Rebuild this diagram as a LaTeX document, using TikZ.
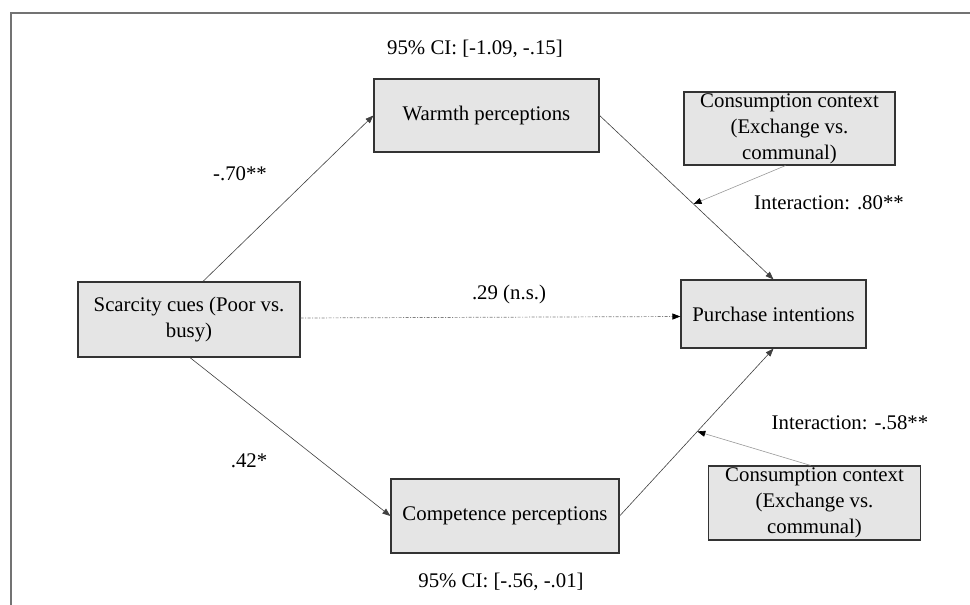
\documentclass[tikz,border=0pt]{standalone}
\usepackage{fontspec}
\setmainfont{Liberation Serif}
\usetikzlibrary{arrows.meta,calc}
\begin{document}
\begin{tikzpicture}[x=1pt,y=-1pt,
  every node/.style={font=\fontsize{20.8}{26}\selectfont, inner sep=0pt},
  varbox/.style={draw=black!80, line width=1.2pt, fill=black!10, align=center},
  path/.style={draw=black!75, line width=0.6pt, -{Triangle[length=8pt,width=6pt]}},
  modpath/.style={draw=black!40, line width=0.6pt, -{Triangle[length=8pt,width=6pt,fill=black,color=black]}},
  dotpath/.style={draw=black!50, line width=0.7pt, dash pattern=on 3pt off 1.5pt on 1pt off 1.5pt, -{Triangle[length=8pt,width=6pt,fill=black,color=black]}},
  lbl/.style={anchor=center}]
\useasboundingbox (0,0) rectangle (970,605);
% frame (top and left edges)
\draw[black!55, line width=1.6pt] (970,13) -- (11,13) -- (11,605);
% boxes
\node[varbox, minimum width=225pt, minimum height=73pt] (warm) at (486.5,115.5) {Warmth perceptions};
\node[varbox, minimum width=211pt, minimum height=73pt] (ctx1) at (789.5,128.5) {Consumption context\\(Exchange vs.\\communal)};
\node[varbox, minimum width=222pt, minimum height=75pt] (scar) at (189,319.5) {Scarcity cues (Poor vs.\\busy)};
\node[varbox, minimum width=185pt, minimum height=68pt] (purch) at (773.5,314) {Purchase intentions};
\node[varbox, minimum width=228pt, minimum height=74pt] (comp) at (505,516) {Competence perceptions};
\node[varbox, minimum width=212pt, minimum height=74pt] (ctx2) at (814.5,503) {Consumption context\\(Exchange vs.\\communal)};
% paths
\draw[path] ($(scar.north)+(14,0)$) -- (warm.west);
\draw[path] (warm.east) -- (purch.north);
\draw[path] ($(scar.south)+(1,0)$) -- (comp.west);
\draw[path] (comp.east) -- (purch.south);
\draw[dotpath] ($(scar.east)+(0,-1.5)$) -- ($(purch.west)+(0,2.5)$);
% moderation targets
\path (warm.east) -- (purch.north) coordinate[pos=0.54] (m1);
\path (comp.east) -- (purch.south) coordinate[pos=0.505] (m2);
\draw[modpath] ($(ctx1.south)+(-4,0)$) -- (m1);
\draw[modpath] ($(ctx2.north)+(-4,0)$) -- (m2);
% labels
\node[lbl] (ci1) at (475,49) {95\% CI: [-1.09, -.15]};
\node[lbl] (b1) at (240,174) {-.70**};
\node[lbl] (b2) at (249,461) {.42*};
\node[lbl] (b3) at (509,294) {.29 (n.s.)};
\node[lbl] (i1) at (829,203) {Interaction: .80**};
\node[lbl] (i2) at (850,423) {Interaction: -.58**};
\node[lbl] (ci2) at (501,582) {95\% CI: [-.56, -.01]};
\end{tikzpicture}
\end{document}
